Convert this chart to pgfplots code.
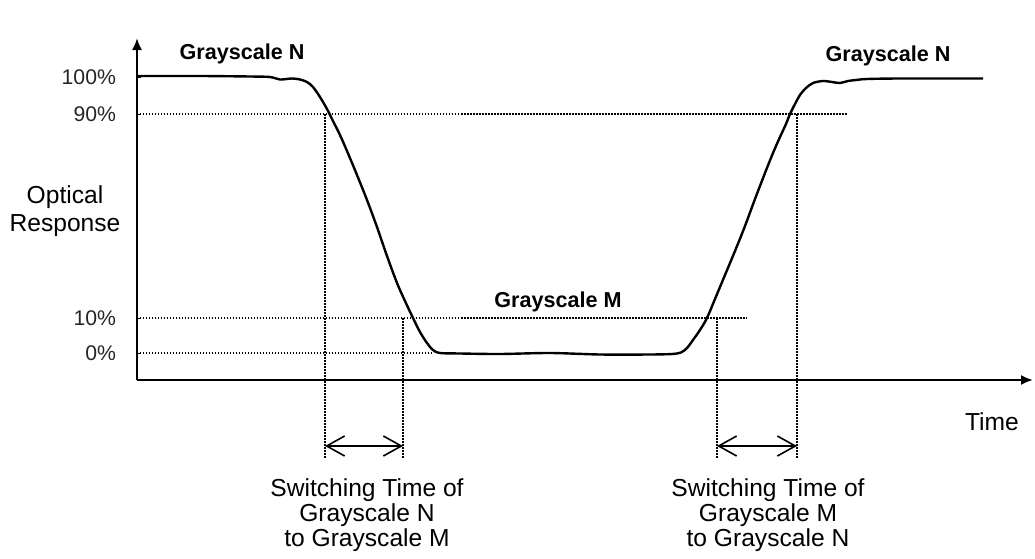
\documentclass[border=0pt]{standalone}
\usepackage{fontspec}
\setmainfont{Liberation Sans}
\usepackage{pgfplots}
\pgfplotsset{compat=1.18}
\usetikzlibrary{arrows.meta}
\begin{document}
\begin{tikzpicture}
\begin{axis}[
  x=0.5pt, y=0.5pt,
  xmin=137, xmax=1033, ymin=178, ymax=520,
  axis x line=bottom, axis y line=left,
  axis line style={line width=1pt, black, -{Latex[length=6pt,width=5pt]}},
  xtick=\empty,
  ytick={205,240,444,481},
  yticklabels={0\%,10\%,90\%,100\%},
  /pgf/number format/assume math mode=true,
  yticklabel style={font=\fontsize{10.6}{12}\selectfont, anchor=east, xshift=-7pt, text=black!85},
  tick align=inside, major tick length=2pt, tick style={line width=0.5pt, black},
  clip=false,
  dotl/.style={black, line width=0.7pt, dash pattern=on 0.75pt off 0.75pt},
]
\path (axis cs:0,0) rectangle (axis cs:1035,558);
% dotted guide lines
\addplot[dotl] coordinates {(137,444) (847,444)};
\addplot[dotl] coordinates {(137,240) (747,240)};
\addplot[dotl] coordinates {(137,205) (433,205)};
\addplot[dotl] coordinates {(325,444) (325,100)};
\addplot[dotl] coordinates {(403,240) (403,100)};
\addplot[dotl] coordinates {(717,240) (717,100)};
\addplot[dotl] coordinates {(797,444) (797,100)};
% double arrows
\addplot[black, line width=0.8pt, {Straight Barb[length=9pt,width=10pt]}-{Straight Barb[length=9pt,width=10pt]}] coordinates {(325,112) (403,112)};
\addplot[black, line width=0.8pt, {Straight Barb[length=9pt,width=10pt]}-{Straight Barb[length=9pt,width=10pt]}] coordinates {(717,112) (797,112)};
% response curve
\addplot[black, line width=1.2pt, smooth, tension=0.5] coordinates {
(137,482) (200,482) (250,481.5) (270,481) (280,478.5) (292,479.5) (300,478.5)
(307,476) (313,471) (320,461) (327,449) (333,437) (340,423) (347,407)
(357,383) (367,358) (377,331) (387,302) (397,275) (405,257) (413,240)
(420,226) (427,215) (433,208) (440,205) (460,204.5) (500,204) (550,205)
(600,203.5) (650,203.5) (672,204) (681,205.5) (687,210) (693,218) (700,228)
(707,240) (715,259) (725,283) (735,307) (745,332) (755,359) (765,385)
(773,405) (780,421) (786,434) (790,444) (795,454) (800,463) (806,470)
(813,475) (823,477) (832,476) (840,475) (848,477) (856,478) (867,479)
(900,479.5) (983,479.5)
};
% texts
\node[font=\bfseries\fontsize{10.8}{12}\selectfont, anchor=base] at (axis cs:242,499) {Grayscale N};
\node[font=\bfseries\fontsize{10.8}{12}\selectfont, anchor=base] at (axis cs:888,497) {Grayscale N};
\node[font=\bfseries\fontsize{10.8}{12}\selectfont, anchor=base] at (axis cs:558,251) {Grayscale M};
\node[font=\fontsize{12.3}{14}\selectfont, anchor=base] at (axis cs:992,128) {Time};
\node[font=\fontsize{12.3}{14}\selectfont, align=center, anchor=base] at (axis cs:65,327) {Optical\\Response};
\node[font=\fontsize{12.3}{12.5}\selectfont, align=center, anchor=base] at (axis cs:367,12) {Switching Time of\\Grayscale N\\to Grayscale M};
\node[font=\fontsize{12.3}{12.5}\selectfont, align=center, anchor=base] at (axis cs:768,12) {Switching Time of\\Grayscale M\\to Grayscale N};
\end{axis}
\end{tikzpicture}
\end{document}
